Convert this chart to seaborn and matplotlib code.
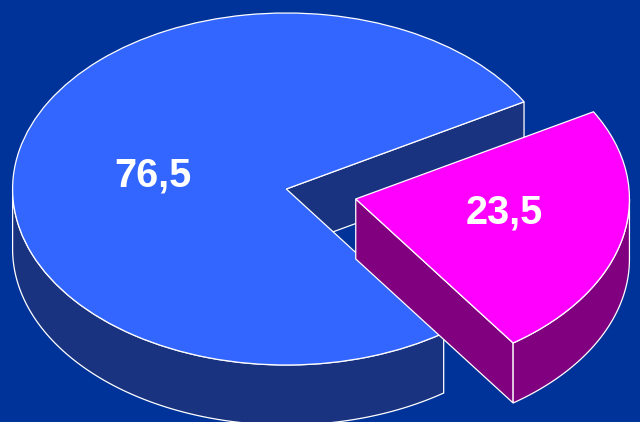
import numpy as np
import matplotlib
matplotlib.use("Agg")
import matplotlib.pyplot as plt
import seaborn as sns

# data
slice_labels = ["76,5", "23,5"]
slice_values = [76.5, 23.5]
explode_amount = [0.0, 0.26]

# style
top_colors = ["#3366FF", "#FF00FF"]
wall_colors = ["#1A3380", "#800080"]
bg_color = "#003399"
edge = "white"
lw = 0.9
start_angle = 29.7
W, H = 640, 422
cx, cy, rx, ry, depth_px = 286.3, 189.0, 273.7, 176.0, 60.0
depth = depth_px / ry

sns.set_theme(style="white")
plt.rcParams["font.family"] = ["Liberation Sans", "DejaVu Sans"]

fig = plt.figure(figsize=(W / 100, H / 100), dpi=100, facecolor=bg_color)
ax = fig.add_axes([0, 0, 1, 1], facecolor=bg_color)

wedges, _ = ax.pie(slice_values, explode=explode_amount, startangle=start_angle,
                   colors=top_colors, radius=1.0, frame=False,
                   wedgeprops=dict(edgecolor=edge, linewidth=lw))
ax.set_aspect("auto")
ax.set_xlim((0 - cx) / rx, (W - cx) / rx)
ax.set_ylim((cy - H) / ry, cy / ry)
ax.axis("off")

# slice angles derived from the values
fracs = np.array(slice_values) / np.sum(slice_values)
angles = start_angle + 360 * np.concatenate([[0], np.cumsum(fracs)])
mid = np.radians((angles[:-1] + angles[1:]) / 2)
ox = np.array(explode_amount) * np.cos(mid)
oy = np.array(explode_amount) * np.sin(mid)


def outer_wall(i, a0, a1, z):
    t = np.radians(np.linspace(a0, a1, 200))
    x = ox[i] + np.cos(t)
    y = oy[i] + np.sin(t)
    ax.fill(np.r_[x, x[::-1]], np.r_[y, y[::-1] - depth],
            facecolor=wall_colors[i], edgecolor=edge, linewidth=lw, zorder=z)


def radial_wall(i, a, z):
    t = np.radians(a)
    x = np.array([ox[i], ox[i] + np.cos(t)])
    y = np.array([oy[i], oy[i] + np.sin(t)])
    ax.fill(np.r_[x, x[::-1]], np.r_[y, y[::-1] - depth],
            facecolor=wall_colors[i], edgecolor=edge, linewidth=lw, zorder=z)


# big slice: walls sit under its top
outer_wall(0, 180, angles[1], 1)
radial_wall(0, angles[0], 1)
wedges[0].set_zorder(2)

# exploded slice: walls above the big slice, top above its walls
radial_wall(1, angles[1], 3)
outer_wall(1, angles[1], 360, 3)
wedges[1].set_zorder(4)

# labels at their slices
label_r = [(-0.487, 0.079), (0.796, -0.131)]
for lab, (lx, ly) in zip(slice_labels, label_r):
    ax.text(lx, ly, lab, color="white", fontsize=28.5, fontweight="bold",
            ha="center", va="center", zorder=5)

fig.savefig("out.png", dpi=100, facecolor=bg_color)
